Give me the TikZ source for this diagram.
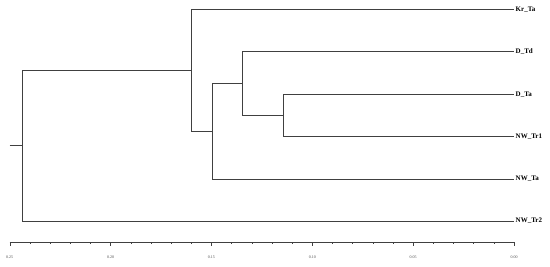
\documentclass[tikz,border=0pt]{standalone}
\usepackage{fontspec}
\setmainfont{Liberation Serif}
\usetikzlibrary{calc}
\begin{document}
\begin{tikzpicture}[x=1pt, y=-1pt,
  branch/.style={draw=black!75, line width=0.6pt},
  leaf/.style={anchor=west, inner sep=1.5pt, font=\fontsize{7}{8}\selectfont\bfseries},
  scalelabel/.style={font=\fontsize{4}{5}\selectfont, text=black!70, inner sep=0pt}]

  \useasboundingbox (0,0) rectangle (550,266);

  % Leaves
  \node[leaf] (KrTa)  at (514,9.3)   {Kr\_Ta};
  \node[leaf] (DTd)   at (514,51.7)  {D\_Td};
  \node[leaf] (DTa)   at (514,94.3)  {D\_Ta};
  \node[leaf] (NWTr1) at (514,136.3) {NW\_Tr1};
  \node[leaf] (NWTa)  at (514,179)   {NW\_Ta};
  \node[leaf] (NWTr2) at (514,221)   {NW\_Tr2};

  % Internal nodes
  \coordinate (stub)  at (9.7,145.7);
  \coordinate (root)  at (22,145.7);
  \coordinate (upper) at (191.7,70.3);
  \coordinate (mid)   at (212.3,131.3);
  \coordinate (inner) at (242,83.5);
  \coordinate (pair)  at (283.7,115.3);

  % Branches
  \draw[branch] (stub) -- (root);
  \draw[branch] (root) |- (upper);
  \draw[branch] (root) |- (NWTr2.west);
  \draw[branch] (upper) |- (KrTa.west);
  \draw[branch] (upper) |- (mid);
  \draw[branch] (mid) |- (inner);
  \draw[branch] (mid) |- (NWTa.west);
  \draw[branch] (inner) |- (DTd.west);
  \draw[branch] (inner) |- (pair);
  \draw[branch] (pair) |- (DTa.west);
  \draw[branch] (pair) |- (NWTr1.west);

  % Scale
  \coordinate (axisL) at (9.7,242.3);
  \coordinate (axisR) at (514,242.3);
  \draw[branch, line width=0.4pt] (axisL) -- (axisR);
  \foreach \i in {0,...,25}
    \draw[branch, line width=0.4pt] ($(axisL)+(\i*20.172,0)$) -- ++(0,2);
  \foreach \i/\lab in {0/0.25,1/0.20,2/0.15,3/0.10,4/0.05,5/0.00} {
    \draw[branch, line width=0.4pt] ($(axisL)+(\i*100.86,0)$) -- ++(0,4);
    \node[scalelabel] (tick\i) at ($(axisL)+(\i*100.86,15)$) {\lab};
  }

\end{tikzpicture}
\end{document}
